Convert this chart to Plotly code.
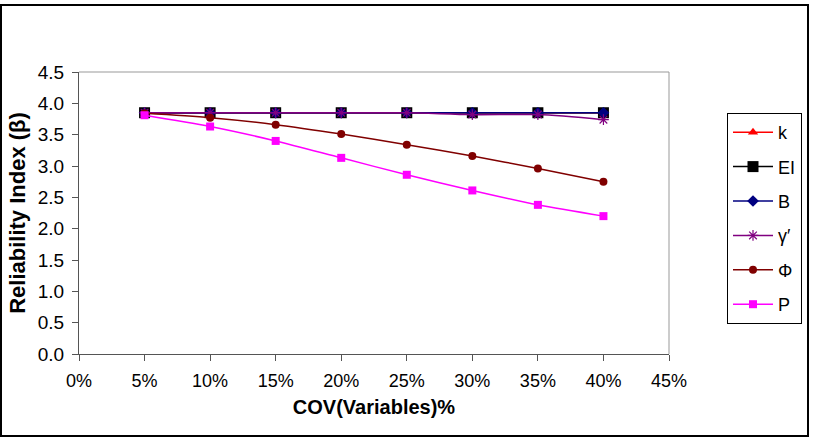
import plotly.graph_objects as go

cov = [0.05, 0.10, 0.15, 0.20, 0.25, 0.30, 0.35, 0.40]
beta_k = [3.85, 3.85, 3.85, 3.85, 3.85, 3.85, 3.85, 3.85]
beta_EI = [3.85, 3.85, 3.85, 3.85, 3.85, 3.85, 3.85, 3.85]
beta_B = [3.85, 3.85, 3.85, 3.85, 3.85, 3.85, 3.85, 3.85]
beta_gamma = [3.85, 3.85, 3.85, 3.85, 3.85, 3.82, 3.82, 3.74]
beta_phi = [3.84, 3.77, 3.66, 3.51, 3.34, 3.16, 2.96, 2.75]
beta_P = [3.81, 3.63, 3.40, 3.13, 2.86, 2.61, 2.38, 2.20]

x_ticks = [0, 0.05, 0.10, 0.15, 0.20, 0.25, 0.30, 0.35, 0.40, 0.45]
y_ticks = [0, 0.5, 1.0, 1.5, 2.0, 2.5, 3.0, 3.5, 4.0, 4.5]

series = [
    ("k", beta_k, "#FF0000", "triangle-up", 9, 0),
    ("EI", beta_EI, "#000000", "square", 11, 0),
    ("B", beta_B, "#000080", "diamond", 9, 0),
    ("γ′", beta_gamma, "#800080", "asterisk-open", 9, 1.2),
    ("Φ", beta_phi, "#800000", "circle", 8, 0),
    ("P", beta_P, "#FF00FF", "square", 8, 0),
]

fig = go.Figure()
for i, (name, vals, col, sym, sz, lw) in enumerate(series):
    fig.add_trace(go.Scatter(
        x=cov, y=vals, name=name, mode="lines+markers",
        line=dict(color=col, width=1.5, shape="spline", smoothing=0.8),
        marker=dict(symbol=sym, size=sz, color=col,
                    line=dict(color=col, width=lw)),
        legendgroup="g%d" % i,
    ))

L, R, T, B = 79, 669, 72, 354
W, H = 814, 438
pw, ph = R - L, B - T

def px(x):
    return (x - L) / pw

def py(y):
    return (B - y) / ph

font = "Liberation Sans, Arial, sans-serif"

fig.update_layout(
    width=W, height=H,
    margin=dict(l=L, r=W - R, t=T, b=H - B, pad=0),
    paper_bgcolor="white", plot_bgcolor="white",
    font=dict(family=font, size=18, color="black"),
    showlegend=True,
    legend=dict(
        x=px(727), y=py(113), xanchor="left", yanchor="top",
        bordercolor="black", borderwidth=1, bgcolor="white",
        font=dict(family=font, size=18, color="black"),
        tracegroupgap=8, itemwidth=40,
    ),
    xaxis=dict(
        range=[0, 0.45], tickvals=x_ticks, tickformat=".0%",
        showgrid=False, zeroline=False, showline=True,
        linecolor="#555555", linewidth=1,
        ticks="outside", ticklen=6, tickcolor="#555555",
        tickfont=dict(size=18), ticklabelstandoff=4,
        title=dict(text="<b>COV(Variables)%</b>", font=dict(size=20), standoff=10),
    ),
    yaxis=dict(
        range=[0, 4.5], tickvals=y_ticks, tickformat=".1f",
        showgrid=False, zeroline=False, showline=True,
        linecolor="#555555", linewidth=1,
        ticks="outside", ticklen=6, tickcolor="#555555",
        tickfont=dict(size=19), ticklabelstandoff=4,
        title=dict(text="<b>Reliability Index (β)</b>", font=dict(size=22), standoff=6),
    ),
    shapes=[
        dict(type="line", xref="paper", yref="paper", x0=0, x1=1, y0=1, y1=1,
             line=dict(color="#999999", width=1)),
        dict(type="line", xref="paper", yref="paper", x0=1, x1=1, y0=0, y1=1,
             line=dict(color="#999999", width=1)),
        dict(type="rect", xref="paper", yref="paper",
             x0=px(1), x1=px(808), y0=py(436), y1=py(5),
             line=dict(color="black", width=2), fillcolor="rgba(0,0,0,0)"),
    ],
)

fig.write_html("out.html")
